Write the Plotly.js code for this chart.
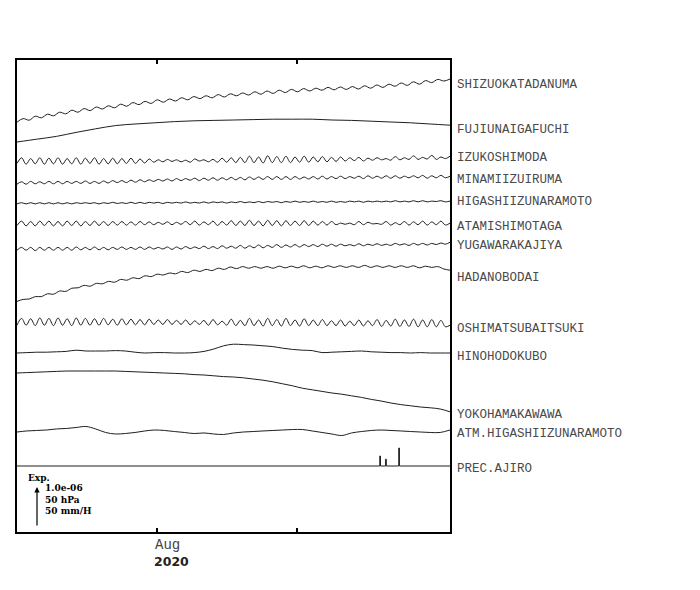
<!DOCTYPE html>
<html><head><meta charset="utf-8">
<script src="https://cdn.plot.ly/plotly-3.0.1.min.js"></script>
<style>html,body{margin:0;padding:0;background:#fff}</style>
</head><body><div id="chart" style="width:700px;height:590px"></div>
<script>
// ---------------- DATA (strain in 1e-8, pressure in hPa, rain in mm/H) ----------------
const stations = ['SHIZUOKATADANUMA','FUJIUNAIGAFUCHI','IZUKOSHIMODA','MINAMIIZUIRUMA',
  'HIGASHIIZUNARAMOTO','ATAMISHIMOTAGA','YUGAWARAKAJIYA','HADANOBODAI','OSHIMATSUBAITSUKI',
  'HINOHODOKUBO','YOKOHAMAKAWAWA','ATM.HIGASHIIZUNARAMOTO','PREC.AJIRO'];

const shizuoka = [-3,6,2,12,8,17,13,22,18,27, 22,31,26,35,30,38,33,42,37,46,
  41,49,44,53,47,55,50,58,53,61, 56,63,58,66,60,68,63,70,65,73,
  67,75,69,77,71,79,73,81,75,82, 77,84,78,85,79,86,80,88,82,90,
  84,92,87,95,89,98,92,101,96,104, 100,105];
const fujiunaigafuchi = [0,7,14,24,33,41,45,48,51,53,54,55,56,57,57,57,55,54,52,50,48,45,42];
const izukoshimoda = [-6,8,-8,6,-7,8,-8,7,-7,8, -8,6,-7,8,-8,7,-6,8,-8,6,
  -7,7,-7,6,-6,7,-6,5,-5,5, -3,3,-2,4,-1,3,-2,2,-3,5,
  0,3,-2,4,-3,7,-3,8,-4,9, -4,12,-4,10,-5,13,-4,11,-4,12,
  -4,10,-3,12,-3,10,-2,11,-2,9, -1,10,0,8,1,9,0,7,2,8,
  3,6,2,11,3,8,4,13,4,9, 5,14,4,10,6,12];
const minamiizuiruma = [-3,3,-3,4,-2,3,-2,4,-2,4, -2,4,-1,4,-1,5,-1,4,-1,5,
  0,6,1,6,1,7,2,8,3,8, 4,9,5,10,5,11,6,11,7,12,
  6,12,7,13,7,13,8,14,8,14, 8,15,9,15,9,16,9,16,9,16,
  9,16,10,15,10,16,10,17,10,16, 11,17,11,16,12,17,11,18,12,17,
  12,18,12,18,12,17,13,18,13,19, 12,18,13,19,13,17];
const higashiizunaramoto = [-1,2,-1,2,-1,2,-1,2,-1,2, -1,2,-1,2,0,2,0,2,-1,2,
  0,3,0,2,0,3,0,3,0,3, 1,3,0,3,1,3,1,4,1,3,
  1,4,1,4,2,4,1,4,2,5, 2,4,2,5,2,5,3,5,2,5,
  3,6,3,5,3,6,3,5,3,6, 3,5,3,6,4,6,3,6,4,6,
  4,6,4,7,4,6,4,7,4,7, 4,6,5,7,4,6];
const atamishimotaga = [-5,6,-6,5,-6,6,-5,6,-6,5, -6,6,-5,6,-6,5,-5,6,-5,5,
  -5,5,-4,5,-4,4,-4,5,-3,4, -3,3,-2,4,-3,3,-2,5,-3,6,
  -4,4,-3,6,-5,5,-4,7,-5,6, -5,8,-5,6,-6,8,-5,7,-6,7,
  -5,6,-5,7,-5,6,-4,5,-4,5, -3,1,-2,1,-3,5,-3,3,-1,0,
  -2,5,-4,2,-3,5,-4,4,-3,6, -4,4,-3,6,-4,1];
const yugawarakajiya = [-3,4,-3,4,-4,4,-3,4,-3,4, -3,4,-3,5,-2,4,-2,5,-2,4,
  -2,4,-1,5,-1,4,-1,5,-1,5, 0,4,0,5,-1,5,0,6,1,5,
  1,7,1,6,1,8,2,7,2,9, 2,8,3,10,3,9,4,11,4,10,
  5,11,5,11,6,11,6,12,7,12, 7,12,8,11,8,13,8,12,9,13,
  9,12,9,14,10,13,9,14,10,14, 10,14,11,15,12,17];
const hadanobodai = [-1,4,5,11,11,18,17,25,24,32, 33,39,37,44,43,49,47,54,52,58,
  56,63,61,67,65,70,68,74,71,77, 74,79,76,82,79,85,81,86,82,86,
  82,86,82,87,83,87,83,88,83,87, 83,88,84,88,84,88,84,89,84,88,
  84,88,84,88,84,88,83,87,84,86, 80,77];
const oshimatsubaitsuki = [-8,9,-8,8,-9,10,-8,9,-9,10, -8,8,-9,10,-8,9,-8,8,-8,9,
  -7,7,-8,8,-7,7,-7,6,-7,7, -6,5,-6,6,-6,4,-6,5,-7,3,
  -6,4,-8,6,-7,2,-8,7,-9,4, -9,9,-9,5,-10,9,-9,6,-10,9,
  -9,5,-10,8,-9,5,-9,6,-9,3, -9,5,-10,2,-9,5,-10,3,-9,6,
  -11,4,-10,7,-11,5,-11,7,-12,5, -12,6,-12,4,-12,-8];
const hinohodokubo = [0,1,2,2,3,4,7,5,5,5, 6,5,2,0,1,1,0,0,1,4,
  10,18,22,21,20,18,16,12,9,7, 6,1,2,3,4,5,3,2,1,1, 0,1,0,0,0];
const yokohamakawawa = [0,1,2,3,4,5,5,5,5,5, 5,4,3,2,1,0,-1,-2,-4,-5,
  -7,-9,-10,-12,-15,-18,-22,-27,-32,-38, -42,-46,-50,-53,-57,-61,-66,-70,-75,-79,
  -82,-85,-87,-90,-97];
const atmHigashiizu = [1008.0,1009.3,1009.9,1010.5,1011.8,1012.4,1013.6,1014.9,1011.8,1007.4,
  1005.5,1006.1,1007.4,1009.3,1010.5,1009.9,1008.6,1007.4,1006.1,1006.8,
  1005.5,1004.9,1006.8,1008.0,1008.6,1009.3,1009.9,1010.5,1011.1,1011.1,
  1009.3,1007.4,1005.5,1003.6,1006.8,1008.6,1009.9,1010.5,1009.9,1009.3,
  1008.6,1008.0,1007.4,1007.4,1010.5];
const precTimes = ['2020-08-13 18:00','2020-08-14 02:00','2020-08-14 20:00'];
const precValues = [12.5, 8.5, 22.5];

const tickDates = ['2020-08-01','2020-08-09'];
const tickMonth = 'Aug';
const tickYear = '2020';
const scaleTexts = ['1.0e-06','50 hPa','50 mm/H'];

// ---------------- LAYOUT CONSTANTS ----------------
const series = [shizuoka,fujiunaigafuchi,izukoshimoda,minamiizuiruma,higashiizunaramoto,
  atamishimotaga,yugawarakajiya,hadanobodai,oshimatsubaitsuki,hinohodokubo,yokohamakawawa,atmHigashiizu];
const kinds = ['s','s','s','s','s','s','s','s','s','s','s','p'];
const refLevel = [0,0,0,0,0,0,0,0,0,0,0,1008];
const rowTop = [61,82,101,123,143.5,163.5,189,241,262,293,313,372,406]; // px below plot top
const labelTop = [85,130,158,180,202.5,227,246,277.5,328.5,356.5,414.5,433.5,468.5];
const PLOT_H = 472;
const pxPer = {s: 40/100, p: 40/50, r: 40/50}; // 1e-6 strain = 50 hPa = 50 mm/H = 40 px

const startMs = Date.UTC(2020,6,24);
const spanMs = 24.743*86400000;
const iso = ms => new Date(ms).toISOString().slice(0,19).replace('T',' ');
const tAxis = n => Array.from({length:n},(_,i)=>iso(startMs + i*spanMs/(n-1)));

const traces = series.map((vals,k)=>({
  type:'scatter', mode:'lines', x:tAxis(vals.length),
  y: vals.map(v => -rowTop[k] + (v-refLevel[k])*pxPer[kinds[k]]),
  line:{color:'#1f1f1f', width:1, shape:'spline', smoothing:1},
  hoverinfo:'skip', showlegend:false
}));

// precipitation: zero baseline with thin bars built from events
const px = [iso(startMs)], py = [0];
precTimes.forEach((t,i)=>{
  const ms = Date.parse(t.replace(' ','T')+'Z');
  [[ms-1800000,0],[ms-1800000,precValues[i]],[ms+1800000,precValues[i]],[ms+1800000,0]]
    .forEach(([a,b])=>{px.push(iso(a)); py.push(b);});
});
px.push(iso(startMs+spanMs)); py.push(0);
traces.push({type:'scatter',mode:'lines',x:px,y:py.map(v=>-rowTop[12]+v*pxPer.r),
  line:{color:'#1f1f1f',width:1},hoverinfo:'skip',showlegend:false});

const ann = stations.map((s,k)=>({
  xref:'paper', yref:'paper', x:1, xshift:5, xanchor:'left',
  y: 1 - (labelTop[k]-60)/PLOT_H, yanchor:'middle', text:s, showarrow:false,
  font:{family:'Liberation Mono, monospace', size:12.5, color:'#4a4a4a'}
}));
ann.push({xref:'x', yref:'paper', x:tickDates[0], xshift:10, y:0, yshift:-13, yanchor:'middle',
  text:tickMonth, showarrow:false, font:{family:'Liberation Mono, monospace', size:14, color:'#444'}});
ann.push({xref:'x', yref:'paper', x:tickDates[0], xshift:14, y:0, yshift:-29, yanchor:'middle',
  text:'<b>'+tickYear+'</b>', showarrow:false, font:{family:'DejaVu Sans, sans-serif', size:12.5, color:'#222'}});
// scale legend
ann.push({xref:'paper', yref:'paper', x:9/433, y:1-(478-60)/PLOT_H, xanchor:'left', yanchor:'middle',
  text:'<b>Exp.</b>', showarrow:false, font:{family:'DejaVu Serif, serif', size:9, color:'#000'}});
ann.push({xref:'paper', yref:'paper', x:26/433, y:1-(499-60)/PLOT_H, xanchor:'left', yanchor:'middle',
  align:'left', text:scaleTexts.map(t=>'<b>'+t+'</b>').join('<br>'), showarrow:false,
  font:{family:'DejaVu Serif, serif', size:9, color:'#000'}});
ann.push({xref:'paper', yref:'y', x:20/433, y:-427, axref:'pixel', ax:0, ayref:'y', ay:-427-40*1.0,
  text:'', showarrow:true, arrowhead:2, arrowsize:0.9, arrowwidth:1.2, arrowcolor:'#000'});

const layout = {
  width:700, height:590, margin:{l:17, r:250, t:60, b:58},
  paper_bgcolor:'#fff', plot_bgcolor:'#fff',
  xaxis:{type:'date', range:[iso(startMs), iso(startMs+spanMs)], tickvals:tickDates,
    ticks:'inside', ticklen:4, tickwidth:1.5, tickcolor:'#000', showticklabels:false,
    showline:true, linewidth:2, linecolor:'#000', mirror:'ticks', showgrid:false, zeroline:false},
  yaxis:{range:[-PLOT_H,0], showline:true, linewidth:2, linecolor:'#000', mirror:true,
    showticklabels:false, ticks:'', showgrid:false, zeroline:false},
  annotations:ann, showlegend:false
};
Plotly.newPlot('chart', traces, layout, {displayModeBar:false, staticPlot:true});
</script></body></html>
